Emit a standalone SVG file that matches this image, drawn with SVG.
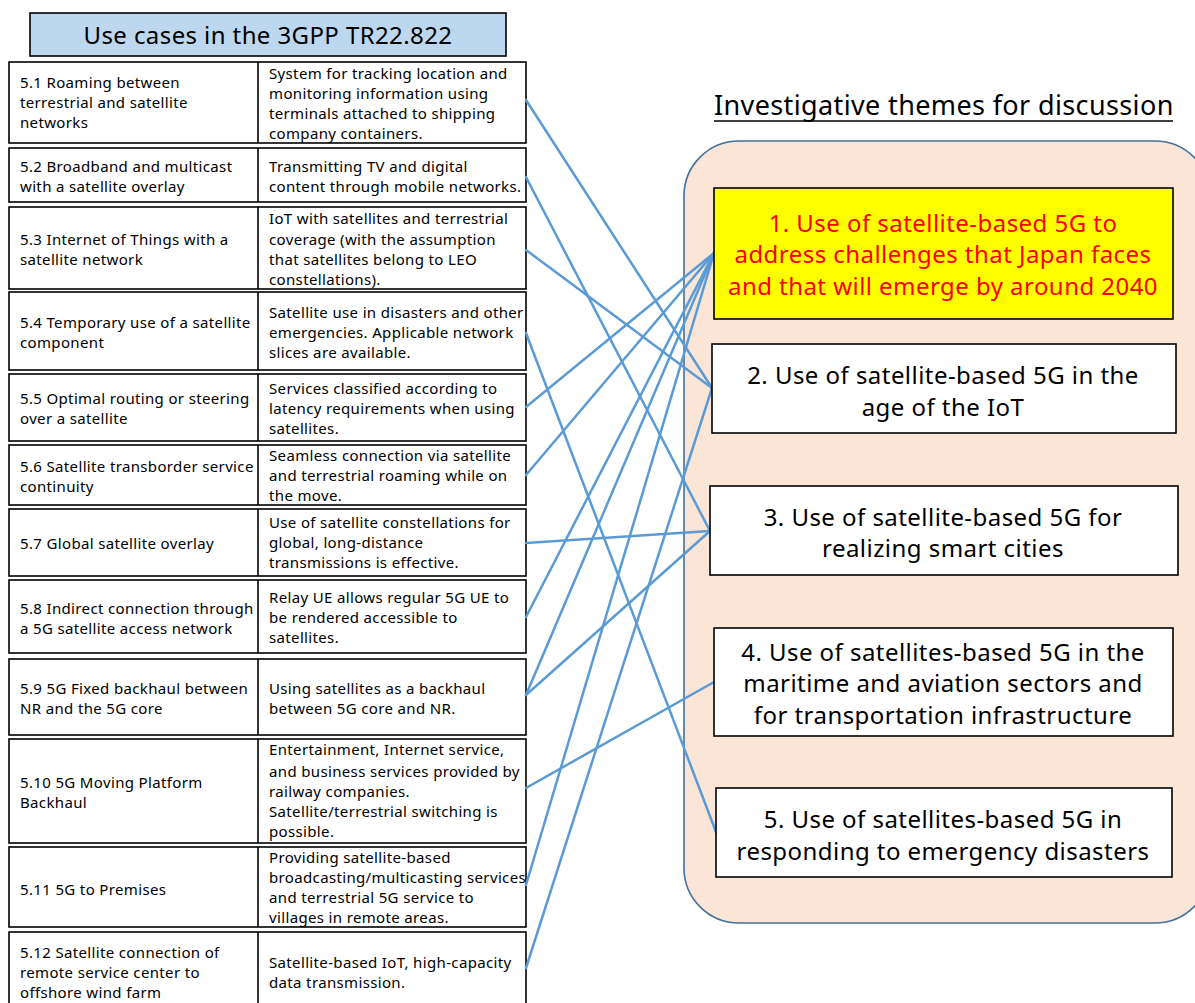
<svg xmlns="http://www.w3.org/2000/svg" width="1195" height="1003" viewBox="0 0 1195 1003">
  <defs>
    <style>
      .cell { fill: #ffffff; stroke: none; }
      .frame { fill: none; stroke: #000000; stroke-width: 1.6; }
      .uc { font-family: "Noto Sans", "Open Sans", sans-serif; font-size: 15px; letter-spacing: 0.35px; fill: #000000; }
      .head { font-family: "Noto Sans", "Open Sans", sans-serif; font-size: 24px; letter-spacing: 0.4px; fill: #000000; text-anchor: middle; }
      .title { font-family: "Noto Sans", "Open Sans", sans-serif; font-size: 27px; letter-spacing: 0.37px; fill: #000000; }
      .theme-box { fill: #ffffff; stroke: #000000; stroke-width: 1.6; }
      .theme { font-family: "Noto Sans", "Open Sans", sans-serif; font-size: 24px; letter-spacing: 0.45px; fill: #000000; text-anchor: middle; }
      .hot { fill: #FF0000; }
      .link { stroke: #5B9BD5; stroke-width: 2.5; fill: none; stroke-linecap: round; }
    </style>
  </defs>

  <rect width="1195" height="1003" fill="#ffffff"/>

  <!-- table heading -->
  <g id="table-heading">
    <rect x="30" y="13" width="476" height="43" fill="#BDD7EE" stroke="#000000" stroke-width="1.6"/>
    <text class="head" x="268" y="44">Use cases in the 3GPP TR22.822</text>
  </g>

  <!-- use-case rows: name cell | description cell -->
  <g id="uc-5-1">
    <rect class="cell" x="9" y="62" width="517" height="81"/>
    <text class="uc" x="20" y="88">5.1 Roaming between</text>
    <text class="uc" x="20" y="108">terrestrial and satellite</text>
    <text class="uc" x="20" y="128">networks</text>
    <text class="uc" x="269" y="79">System for tracking location and</text>
    <text class="uc" x="269" y="99">monitoring information using</text>
    <text class="uc" x="269" y="119">terminals attached to shipping</text>
    <text class="uc" x="269" y="139">company containers.</text>
    <rect class="frame" x="9" y="62" width="517" height="81"/>
    <line class="frame" x1="258" y1="62" x2="258" y2="143"/>
  </g>

  <g id="uc-5-2">
    <rect class="cell" x="9" y="148" width="517" height="54"/>
    <text class="uc" x="20" y="172">5.2 Broadband and multicast</text>
    <text class="uc" x="20" y="192">with a satellite overlay</text>
    <text class="uc" x="269" y="172">Transmitting TV and digital</text>
    <text class="uc" x="269" y="192">content through mobile networks.</text>
    <rect class="frame" x="9" y="148" width="517" height="54"/>
    <line class="frame" x1="258" y1="148" x2="258" y2="202"/>
  </g>

  <g id="uc-5-3">
    <rect class="cell" x="9" y="207" width="517" height="82"/>
    <text class="uc" x="20" y="245">5.3 Internet of Things with a</text>
    <text class="uc" x="20" y="265">satellite network</text>
    <text class="uc" x="269" y="224">IoT with satellites and terrestrial</text>
    <text class="uc" x="269" y="245">coverage (with the assumption</text>
    <text class="uc" x="269" y="265">that satellites belong to LEO</text>
    <text class="uc" x="269" y="285">constellations).</text>
    <rect class="frame" x="9" y="207" width="517" height="82"/>
    <line class="frame" x1="258" y1="207" x2="258" y2="289"/>
  </g>

  <g id="uc-5-4">
    <rect class="cell" x="9" y="292" width="517" height="78"/>
    <text class="uc" x="20" y="328">5.4 Temporary use of a satellite</text>
    <text class="uc" x="20" y="348">component</text>
    <text class="uc" x="269" y="318">Satellite use in disasters and other</text>
    <text class="uc" x="269" y="338">emergencies. Applicable network</text>
    <text class="uc" x="269" y="358">slices are available.</text>
    <rect class="frame" x="9" y="292" width="517" height="78"/>
    <line class="frame" x1="258" y1="292" x2="258" y2="370"/>
  </g>

  <g id="uc-5-5">
    <rect class="cell" x="9" y="374" width="517" height="67"/>
    <text class="uc" x="20" y="404">5.5 Optimal routing or steering</text>
    <text class="uc" x="20" y="424">over a satellite</text>
    <text class="uc" x="269" y="394">Services classified according to</text>
    <text class="uc" x="269" y="414">latency requirements when using</text>
    <text class="uc" x="269" y="434">satellites.</text>
    <rect class="frame" x="9" y="374" width="517" height="67"/>
    <line class="frame" x1="258" y1="374" x2="258" y2="441"/>
  </g>

  <g id="uc-5-6">
    <rect class="cell" x="9" y="445" width="517" height="60"/>
    <text class="uc" x="20" y="472">5.6 Satellite transborder service</text>
    <text class="uc" x="20" y="492">continuity</text>
    <text class="uc" x="269" y="461">Seamless connection via satellite</text>
    <text class="uc" x="269" y="481">and terrestrial roaming while on</text>
    <text class="uc" x="269" y="501">the move.</text>
    <rect class="frame" x="9" y="445" width="517" height="60"/>
    <line class="frame" x1="258" y1="445" x2="258" y2="505"/>
  </g>

  <g id="uc-5-7">
    <rect class="cell" x="9" y="509" width="517" height="67"/>
    <text class="uc" x="20" y="549">5.7 Global satellite overlay</text>
    <text class="uc" x="269" y="528">Use of satellite constellations for</text>
    <text class="uc" x="269" y="548">global, long-distance</text>
    <text class="uc" x="269" y="568">transmissions is effective.</text>
    <rect class="frame" x="9" y="509" width="517" height="67"/>
    <line class="frame" x1="258" y1="509" x2="258" y2="576"/>
  </g>

  <g id="uc-5-8">
    <rect class="cell" x="9" y="580" width="517" height="73"/>
    <text class="uc" x="20" y="614">5.8 Indirect connection through</text>
    <text class="uc" x="20" y="634">a 5G satellite access network</text>
    <text class="uc" x="269" y="603">Relay UE allows regular 5G UE to</text>
    <text class="uc" x="269" y="623">be rendered accessible to</text>
    <text class="uc" x="269" y="643">satellites.</text>
    <rect class="frame" x="9" y="580" width="517" height="73"/>
    <line class="frame" x1="258" y1="580" x2="258" y2="653"/>
  </g>

  <g id="uc-5-9">
    <rect class="cell" x="9" y="659" width="517" height="76"/>
    <text class="uc" x="20" y="694">5.9 5G Fixed backhaul between</text>
    <text class="uc" x="20" y="714">NR and the 5G core</text>
    <text class="uc" x="269" y="694">Using satellites as a backhaul</text>
    <text class="uc" x="269" y="714">between 5G core and NR.</text>
    <rect class="frame" x="9" y="659" width="517" height="76"/>
    <line class="frame" x1="258" y1="659" x2="258" y2="735"/>
  </g>

  <g id="uc-5-10">
    <rect class="cell" x="9" y="739" width="517" height="104"/>
    <text class="uc" x="20" y="788">5.10 5G Moving Platform</text>
    <text class="uc" x="20" y="808">Backhaul</text>
    <text class="uc" x="269" y="755">Entertainment, Internet service,</text>
    <text class="uc" x="269" y="777">and business services provided by</text>
    <text class="uc" x="269" y="797">railway companies.</text>
    <text class="uc" x="269" y="817">Satellite/terrestrial switching is</text>
    <text class="uc" x="269" y="837">possible.</text>
    <rect class="frame" x="9" y="739" width="517" height="104"/>
    <line class="frame" x1="258" y1="739" x2="258" y2="843"/>
  </g>

  <g id="uc-5-11">
    <rect class="cell" x="9" y="847" width="517" height="80"/>
    <text class="uc" x="20" y="895">5.11 5G to Premises</text>
    <text class="uc" x="269" y="863">Providing satellite-based</text>
    <text class="uc" x="269" y="883">broadcasting/multicasting services</text>
    <text class="uc" x="269" y="903">and terrestrial 5G service to</text>
    <text class="uc" x="269" y="923">villages in remote areas.</text>
    <rect class="frame" x="9" y="847" width="517" height="80"/>
    <line class="frame" x1="258" y1="847" x2="258" y2="927"/>
  </g>

  <g id="uc-5-12">
    <rect class="cell" x="9" y="932" width="517" height="80"/>
    <text class="uc" x="20" y="958">5.12 Satellite connection of</text>
    <text class="uc" x="20" y="978">remote service center to</text>
    <text class="uc" x="20" y="998">offshore wind farm</text>
    <text class="uc" x="269" y="968">Satellite-based IoT, high-capacity</text>
    <text class="uc" x="269" y="988">data transmission.</text>
    <rect class="frame" x="9" y="932" width="517" height="80"/>
    <line class="frame" x1="258" y1="932" x2="258" y2="1012"/>
  </g>

  <!-- themes heading and panel -->
  <g id="themes-heading">
    <text class="title" x="714" y="115">Investigative themes for discussion</text>
    <line x1="714" y1="121" x2="1173" y2="121" stroke="#000000" stroke-width="1.3"/>
  </g>
  <g id="themes-panel">
    <rect x="684" y="141" width="526" height="782" rx="55" ry="55" fill="#FBE5D6" stroke="#41719C" stroke-width="1.6"/>
  </g>

  <!-- connectors: use case -> theme -->
  <g id="connectors">
    <line class="link" x1="526" y1="100" x2="712" y2="388"/>
    <line class="link" x1="526" y1="177" x2="710" y2="531"/>
    <line class="link" x1="526" y1="250" x2="712" y2="388"/>
    <line class="link" x1="526" y1="333" x2="716" y2="832"/>
    <line class="link" x1="526" y1="407" x2="714" y2="253"/>
    <line class="link" x1="526" y1="475" x2="714" y2="253"/>
    <line class="link" x1="526" y1="543" x2="710" y2="531"/>
    <line class="link" x1="526" y1="617" x2="714" y2="253"/>
    <line class="link" x1="526" y1="695" x2="714" y2="253"/>
    <line class="link" x1="526" y1="695" x2="710" y2="531"/>
    <line class="link" x1="526" y1="788" x2="714" y2="682"/>
    <line class="link" x1="526" y1="885" x2="714" y2="253"/>
    <line class="link" x1="526" y1="968" x2="712" y2="388"/>
  </g>

  <!-- themes -->
  <g id="theme-1">
    <rect x="714" y="188" width="459" height="131" fill="#FFFF00" stroke="#000000" stroke-width="1.6"/>
    <text class="theme hot" x="943" y="232">1. Use of satellite-based 5G to</text>
    <text class="theme hot" x="943" y="263">address challenges that Japan faces</text>
    <text class="theme hot" x="943" y="295">and that will emerge by around 2040</text>
  </g>
  <g id="theme-2">
    <rect class="theme-box" x="712" y="344" width="464" height="89"/>
    <text class="theme" x="943" y="384">2. Use of satellite-based 5G in the</text>
    <text class="theme" x="943" y="416">age of the IoT</text>
  </g>
  <g id="theme-3">
    <rect class="theme-box" x="710" y="486" width="468" height="89"/>
    <text class="theme" x="943" y="526">3. Use of satellite-based 5G for</text>
    <text class="theme" x="943" y="557">realizing smart cities</text>
  </g>
  <g id="theme-4">
    <rect class="theme-box" x="714" y="628" width="459" height="108"/>
    <text class="theme" x="943" y="661">4. Use of satellites-based 5G in the</text>
    <text class="theme" x="943" y="692">maritime and aviation sectors and</text>
    <text class="theme" x="943" y="724">for transportation infrastructure</text>
  </g>
  <g id="theme-5">
    <rect class="theme-box" x="716" y="788" width="456" height="89"/>
    <text class="theme" x="943" y="828">5. Use of satellites-based 5G in</text>
    <text class="theme" x="943" y="860">responding to emergency disasters</text>
  </g>
</svg>
